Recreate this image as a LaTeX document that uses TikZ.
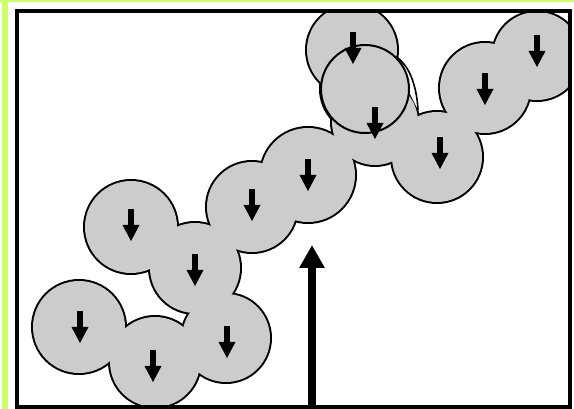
\documentclass[tikz,border=0pt]{standalone}
\usetikzlibrary{arrows.meta}
\definecolor{limebar}{RGB}{204,255,102}
\definecolor{blobgray}{RGB}{204,204,204}
\tikzset{
  blobline/.style={draw=black,line width=4pt},
  blobfill/.style={fill=blobgray},
  frameline/.style={draw=black,line width=4pt},
  downarrow/.pic={
    \fill[black] (-2.8,-16) rectangle (2.8,1);
    \fill[black] (-8.5,0) -- (8.5,0) -- (0,16) -- cycle;
  },
  bigarrow/.style={draw=black,line width=8pt,-{Triangle[width=24pt,length=23pt]}}
}
\begin{document}
\begin{tikzpicture}[x=1pt,y=-1pt]
\useasboundingbox (0,0) rectangle (574,409);
\fill[white] (0,0) rectangle (574,409);
\fill[limebar] (2,0) rectangle (8,409);
\fill[limebar] (0,0) rectangle (574,2);
\begin{scope}
  \clip (17,11) rectangle (570,407);
  % outlines of the union
  \foreach \cx/\cy/\r in {352/50/45, 365/89/44, 375/122/43, 437/157/45, 485/88/45, 537/56/44,
      308/175/47, 252/207/45, 131/227/46, 195/268/45, 79/327/46, 226/338/44, 155/362/45}
    \draw[blobline] (\cx,\cy) circle (\r pt);
  % fills
  \foreach \cx/\cy/\r in {352/50/45, 365/89/44, 375/122/43, 437/157/45, 485/88/45, 537/56/44,
      308/175/47, 252/207/45, 131/227/46, 195/268/45, 79/327/46, 226/338/44, 155/362/45}
    \fill[blobfill] (\cx,\cy) circle (\r pt);
  % white wedge beside the inner circle, bounded by an extra arc
  \fill[white] (396,57) .. controls (411,66) and (417,90) .. (418,110) -- (409,92) -- cycle;
  \fill[blobfill] (365,89) circle (44pt);
  \draw[black,line width=1.6pt] (396,57) .. controls (411,66) and (417,90) .. (418,110);
  % inner outlined circle
  \draw[black,line width=2pt] (365,89) circle (44pt);
  % down arrows
  \foreach \ax/\ay in {353/48, 375/123, 440/153, 485/89, 537/51, 308/175, 252/205,
      131/225, 195/270, 80/327, 227/342, 153/366}
    \pic at (\ax,\ay) {downarrow};
\end{scope}
\draw[frameline] (17,11) rectangle (570,407);
\coordinate (base) at (312,407);
\coordinate (tip) at (312,245);
\draw[bigarrow] (base) -- (tip);
\end{tikzpicture}
\end{document}
